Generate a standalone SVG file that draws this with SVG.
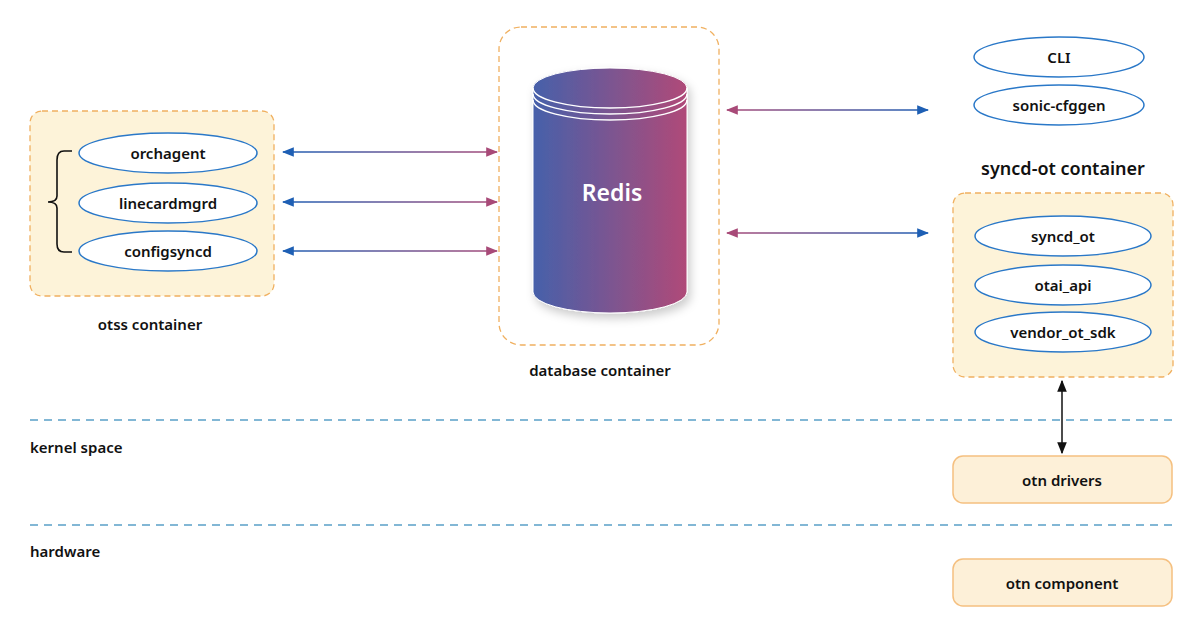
<svg xmlns="http://www.w3.org/2000/svg" width="1200" height="630" viewBox="0 0 1200 630">
<style>
text{font-family:"Noto Sans","Open Sans",sans-serif;font-weight:600;fill:#111;text-anchor:middle}
.lbl{font-size:15px}
.cont{fill:#fdf3d9;stroke:#f0b060;stroke-width:1.3;stroke-dasharray:6 4}
.ell{fill:#fff;stroke:#2a78c8;stroke-width:1.5}
.box{fill:#fdf0d8;stroke:#f5c080;stroke-width:1.5}
.sep{stroke:#5aa0c8;stroke-width:1.3;stroke-dasharray:8 6}
</style>
<defs>
<linearGradient id="gL" x1="0" x2="1"><stop offset="0" stop-color="#1e5fb4"/><stop offset="1" stop-color="#a84a78"/></linearGradient>
<linearGradient id="gR" x1="0" x2="1"><stop offset="0" stop-color="#a84a78"/><stop offset="1" stop-color="#1e5fb4"/></linearGradient>
<linearGradient id="cyl" x1="0" x2="1"><stop offset="0" stop-color="#4660aa"/><stop offset="1" stop-color="#b04a78"/></linearGradient>
<marker id="ab" viewBox="0 0 10 10" refX="9" refY="5" markerWidth="8" markerHeight="8" orient="auto-start-reverse"><path d="M0,1 L10,5 L0,9 z" fill="#1e5fb4"/></marker>
<marker id="ap" viewBox="0 0 10 10" refX="9" refY="5" markerWidth="8" markerHeight="8" orient="auto-start-reverse"><path d="M0,1 L10,5 L0,9 z" fill="#a84a78"/></marker>
<marker id="ak" viewBox="0 0 10 10" refX="9" refY="5" markerWidth="8" markerHeight="8" orient="auto-start-reverse"><path d="M0,1 L10,5 L0,9 z" fill="#111"/></marker>
<filter id="sh" x="-20%" y="-20%" width="140%" height="140%"><feDropShadow dx="3" dy="5" stdDeviation="5" flood-opacity="0.2"/></filter>
</defs>

<g id="otss">
<rect class="cont" x="30" y="111" width="244" height="185" rx="12"/>
<path d="M72,151 H64 Q57,151 57,160 V196 Q57,202 48,202 Q57,202 57,208 V244 Q57,252 64,252 H72" fill="none" stroke="#111" stroke-width="1.6"/>
<text class="lbl" x="150" y="330">otss container</text>
</g>
<g id="orchagent"><ellipse class="ell" cx="168" cy="153" rx="89" ry="20"/><text class="lbl" x="168" y="159">orchagent</text></g>
<g id="linecardmgrd"><ellipse class="ell" cx="168" cy="203" rx="89" ry="20"/><text class="lbl" x="168" y="209">linecardmgrd</text></g>
<g id="configsyncd"><ellipse class="ell" cx="168" cy="251" rx="89" ry="20"/><text class="lbl" x="168" y="257">configsyncd</text></g>

<g id="database">
<rect x="499" y="27" width="220" height="318" rx="22" fill="none" stroke="#f0b060" stroke-width="1.3" stroke-dasharray="6 4"/>
<text class="lbl" x="600" y="376">database container</text>
<g filter="url(#sh)">
<path d="M533,88 A77,20 0 0 1 687,88 V292 A77,21 0 0 1 533,292 Z" fill="url(#cyl)" stroke="#fff" stroke-width="1"/>
</g>
<path d="M533,88 A77,20 0 0 0 687,88" fill="none" stroke="#fff" stroke-width="1.5"/>
<path d="M533,94 A77,20 0 0 0 687,94" fill="none" stroke="#fff" stroke-width="1.5"/>
<path d="M533,100 A77,20 0 0 0 687,100" fill="none" stroke="#fff" stroke-width="1.5"/>
<text x="612" y="201" style="font-size:23px;fill:#fff">Redis</text>
</g>

<g id="cli"><ellipse class="ell" cx="1059" cy="57" rx="85" ry="20"/><text class="lbl" x="1059" y="63">CLI</text></g>
<g id="cfggen"><ellipse class="ell" cx="1059" cy="105" rx="85" ry="20"/><text class="lbl" x="1059" y="111">sonic-cfggen</text></g>

<g id="syncd">
<text x="1063" y="175" style="font-size:18px">syncd-ot container</text>
<rect class="cont" x="953" y="193" width="220" height="184" rx="12"/>
</g>
<g id="syncd_ot"><ellipse class="ell" cx="1063" cy="236" rx="88" ry="20"/><text class="lbl" x="1063" y="242">syncd_ot</text></g>
<g id="otai_api"><ellipse class="ell" cx="1063" cy="285" rx="88" ry="20"/><text class="lbl" x="1063" y="291">otai_api</text></g>
<g id="vendor"><ellipse class="ell" cx="1063" cy="332" rx="88" ry="20"/><text class="lbl" x="1063" y="338">vendor_ot_sdk</text></g>

<g id="layers">
<line class="sep" x1="30" y1="420" x2="1175" y2="420"/>
<line class="sep" x1="30" y1="525" x2="1175" y2="525"/>
<text class="lbl" x="30" y="453" style="text-anchor:start">kernel space</text>
<text class="lbl" x="30" y="557" style="text-anchor:start">hardware</text>
</g>
<g id="drivers"><rect class="box" x="953" y="456" width="219" height="47" rx="10"/><text class="lbl" x="1062" y="486">otn drivers</text></g>
<g id="component"><rect class="box" x="953" y="559" width="219" height="47" rx="10"/><text class="lbl" x="1062" y="589">otn component</text></g>

<g id="connectors" fill="none" stroke-width="1.5">
<line x1="283" y1="152" x2="497" y2="152.01" stroke="url(#gL)" marker-start="url(#ab)" marker-end="url(#ap)"/>
<line x1="283" y1="202" x2="497" y2="202.01" stroke="url(#gL)" marker-start="url(#ab)" marker-end="url(#ap)"/>
<line x1="283" y1="251" x2="497" y2="251.01" stroke="url(#gL)" marker-start="url(#ab)" marker-end="url(#ap)"/>
<line x1="727" y1="110" x2="928" y2="110.01" stroke="url(#gR)" marker-start="url(#ap)" marker-end="url(#ab)"/>
<line x1="727" y1="233" x2="928" y2="233.01" stroke="url(#gR)" marker-start="url(#ap)" marker-end="url(#ab)"/>
<line x1="1062" y1="381" x2="1062" y2="453" stroke="#111" marker-start="url(#ak)" marker-end="url(#ak)"/>
</g>
</svg>
